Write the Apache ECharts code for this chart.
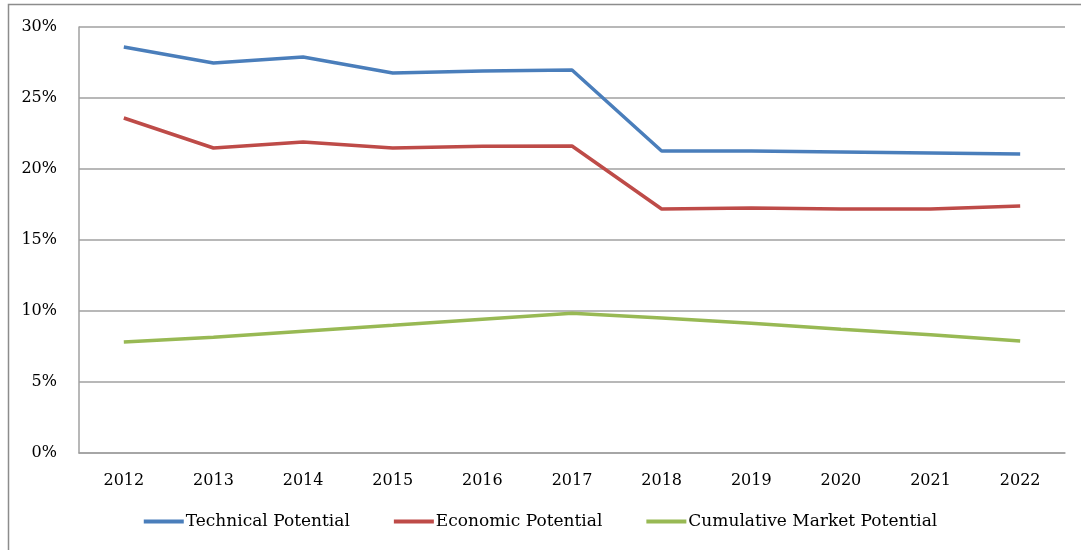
<!DOCTYPE html>
<html><head><meta charset="utf-8">
<script src="https://cdn.jsdelivr.net/npm/echarts@6/dist/echarts.min.js"></script>
<style>html,body{margin:0;padding:0;background:#fff}#c{width:1081px;height:550px}</style>
</head><body><div id="c"></div>
<script>
const years = ['2012','2013','2014','2015','2016','2017','2018','2019','2020','2021','2022'];
const technical = [28.59, 27.46, 27.89, 26.76, 26.90, 26.97, 21.27, 21.27, 21.20, 21.13, 21.06];
const economic  = [23.59, 21.48, 21.90, 21.48, 21.60, 21.62, 17.18, 17.25, 17.18, 17.18, 17.39];
const cumulative = [7.82, 8.15, 8.57, 8.99, 9.42, 9.84, 9.50, 9.13, 8.71, 8.33, 7.89];
const seriesNames = ['Technical Potential','Economic Potential','Cumulative Market Potential'];
const colors = ['#4a7ebb','#be4b48','#98b954'];

const FONT = 'DejaVu Serif';
const chart = echarts.init(document.getElementById('c'), null, {renderer:'canvas'});
const mk = (name, data, color) => ({
  name, type:'line', data, symbol:'none', smooth:false,
  lineStyle:{color, width:3.5}, itemStyle:{color}
});
chart.setOption({
  animation:false,
  backgroundColor:'#fff',
  graphic:[{type:'rect', shape:{x:8.5,y:4.5,width:1200,height:700}, style:{fill:'none', stroke:'#8c8c8c', lineWidth:1.5}, silent:true}],
  grid:{left:79, top:27, right:16, bottom:97},
  legend:{
    bottom:15, left:'center', itemWidth:40, itemHeight:4, itemGap:44,
    icon:'rect',
    textStyle:{fontFamily:FONT, fontSize:17, color:'#000', padding:[0,0,0,-3]},
    data:seriesNames
  },
  xAxis:{
    type:'category', data:years, boundaryGap:true,
    axisLine:{lineStyle:{color:'#a0a0a0', width:1.5}},
    axisTick:{show:false},
    axisLabel:{fontFamily:FONT, fontSize:16, color:'#000', margin:20}
  },
  yAxis:{
    type:'value', min:0, max:30, interval:5,
    axisLine:{show:true, lineStyle:{color:'#a0a0a0', width:1.5}},
    axisTick:{show:false},
    splitLine:{lineStyle:{color:'#a0a0a0', width:1.5}},
    axisLabel:{fontFamily:FONT, fontSize:16, color:'#000', margin:22, formatter:'{value}%'}
  },
  series:[
    mk(seriesNames[0], technical, colors[0]),
    mk(seriesNames[1], economic, colors[1]),
    mk(seriesNames[2], cumulative, colors[2])
  ]
});
</script></body></html>
